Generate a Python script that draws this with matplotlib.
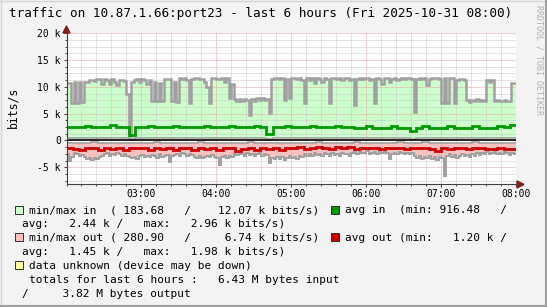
import numpy as np
import matplotlib
matplotlib.use("Agg")
import matplotlib.pyplot as plt
from matplotlib.patches import Rectangle, Polygon
from matplotlib.lines import Line2D
from matplotlib.ticker import MultipleLocator

# ---- data (k bits/s), max series every 2 min, min/avg every 5 min, from 02:00 ----
max_in = [10.7, 10.8, 7.0, 10.9, 7.0, 10.9, 7.1, 10.9,
          11.0, 11.3, 11.3, 11.1, 11.4, 11.4, 10.6, 11.4, 11.2, 10.5, 11.4, 11.0, 10.4, 11.3, 11.3, 11.1,
          8.6, 0.8, 10.9,
          11.3, 11.4, 10.9, 11.4, 11.2, 10.6, 11.3,
          7.3, 11.0, 7.4, 10.8, 7.3,
          11.5, 11.4, 11.5,
          7.3, 11.0, 7.2,
          11.6, 11.5, 11.6, 11.2,
          7.0, 11.5,
          11.6, 11.6, 11.4, 11.5, 11.0, 10.0,
          7.0,
          11.6, 11.7, 11.4, 11.5, 11.6, 11.0, 11.6,
          8.0, 10.5,
          7.8, 7.3, 7.8, 7.4, 7.8, 7.5,
          4.8,
          7.8, 7.4, 7.9, 7.5, 8.0, 7.6, 7.8,
          5.1,
          11.4, 11.6, 11.6, 11.5, 11.6, 7.6, 11.5, 8.0,
          11.6, 11.7, 11.4, 11.6, 11.3,
          7.0,
          11.6, 11.2, 11.7, 10.8, 11.6, 11.5, 11.0, 11.6, 11.4,
          7.0,
          11.6, 11.7, 11.5, 11.6, 11.3, 11.6, 11.6, 11.2, 11.5,
          6.6,
          11.4, 11.6, 11.5, 11.7, 11.6, 11.3, 11.5,
          7.0,
          11.6, 11.4, 10.5, 11.6, 11.7, 11.0, 11.5, 11.6, 11.2, 11.5, 11.6, 11.4, 11.7, 11.6, 11.5,
          5.4,
          11.5, 11.6, 11.4, 11.6, 10.3, 11.5, 11.7, 11.6, 11.6, 11.4,
          7.0, 11.6, 7.0, 11.6,
          11.6, 7.0, 11.3, 11.4, 11.5, 11.3,
          7.6, 7.2, 7.6, 7.3, 7.7, 7.3, 7.5, 7.4,
          11.2, 11.0, 11.3,
          7.3, 7.6, 7.3, 7.4, 7.6, 7.3, 7.4,
          10.8, 10.8]

max_out = [2.6, 3.9, 3.0, 2.4, 2.6, 2.9, 2.7, 3.1,
           3.4, 3.3, 3.6, 3.2, 3.5, 3.0, 2.8,
           2.6, 2.4, 2.8, 2.5, 2.7, 2.3, 2.6, 2.9, 2.5, 2.8,
           3.1, 3.3, 3.0, 3.4, 2.9, 2.7, 3.0,
           2.8, 3.1, 2.7, 2.9, 3.2, 2.6, 3.0, 2.8, 2.7,
           4.0, 2.9, 2.7,
           2.5, 2.8, 2.4, 2.6, 2.9, 2.5, 2.7, 3.0, 3.2,
           2.9, 3.3, 3.0, 2.8, 3.1, 2.7, 3.0, 3.2,
           4.6, 3.1,
           2.9, 3.2, 2.8, 3.1, 2.5, 2.7, 2.3, 2.6, 2.8, 2.4, 2.7, 2.5, 2.9,
           2.6, 2.4, 2.8, 2.5, 2.7, 4.2, 3.2, 3.5,
           3.0, 3.4, 3.1, 3.6, 3.3, 2.9, 3.2,
           3.0, 3.4, 2.8, 3.1, 2.6, 2.9, 2.5, 2.8, 2.4, 2.7,
           2.5, 2.8, 2.3, 2.6, 2.9, 2.4, 2.7, 2.5, 2.8, 2.3, 2.6, 2.5, 2.9, 2.4,
           2.2, 2.5, 2.1, 2.4, 2.3, 2.0, 2.6, 2.3, 2.1, 2.5, 2.2, 2.4, 2.0, 2.3, 3.4, 2.5,
           2.3, 2.5, 2.2, 2.4, 2.6, 2.3, 2.5, 2.4,
           2.8, 3.2, 2.9, 3.5, 3.0, 3.3, 2.8, 3.4, 3.1, 3.6, 3.0, 3.2,
           6.7,
           2.9, 2.6, 3.0, 2.7, 3.2, 2.8, 2.5, 2.9, 2.7, 3.1, 2.6, 2.8, 2.4, 2.7,
           2.3, 2.6, 2.2, 2.5, 2.4, 2.1, 2.6, 2.3, 2.5, 2.2, 2.4, 2.7, 2.3, 2.5]

min_in = [0.45, 0.5, 0.45, 0.4, 0.45, 0.5, 0.45, 0.45, 0.4, 0.45, 0.2, 0.45,
          0.45, 0.5, 0.45, 0.45, 0.4, 0.45, 0.5, 0.45, 0.45, 0.4, 0.45, 0.45,
          0.5, 0.45, 0.45, 0.4, 0.45, 0.45, 0.5, 0.45, 0.3, 0.45, 0.45, 0.5,
          0.45, 0.45, 0.4, 0.45, 0.5, 0.45, 0.45, 0.4, 0.45, 0.45, 0.5, 0.45,
          0.45, 0.4, 0.45, 0.5, 0.45, 0.45, 0.4, 0.35, 0.45, 0.5, 0.45, 0.45,
          0.4, 0.45, 0.5, 0.45, 0.45, 0.4, 0.45, 0.5, 0.45, 0.45, 0.4, 0.45]

avg_in = [2.45, 2.45, 2.45, 2.75, 2.45, 2.5, 2.6, 2.8, 2.55, 2.6,
          1.0,
          2.45, 2.45, 2.75, 2.45, 2.45, 2.45, 2.75, 2.45, 2.45, 2.45,
          2.45, 2.75, 2.45, 2.45, 2.45, 2.75, 2.45, 2.45, 2.45, 2.75, 2.45,
          1.2,
          2.45, 2.45, 2.75, 2.45, 2.45, 2.45, 2.75, 2.45, 2.45, 2.45, 2.75, 2.45, 2.45,
          2.3, 2.35, 2.75, 2.3, 2.3, 2.3, 2.75, 2.35, 2.3,
          1.7,
          2.35, 2.75, 2.4, 2.4, 2.4, 2.75, 2.4, 2.4, 2.4, 2.75, 2.4, 2.4, 2.4, 2.75, 2.45, 2.8]

min_out = [0.45, 0.4, 0.5, 0.45, 0.35, 0.45, 0.5, 0.45, 0.4, 0.45, 0.5, 0.45,
           0.4, 0.45, 0.3, 0.45, 0.5, 0.45, 0.4, 0.45, 0.45, 0.35, 0.45, 0.5,
           0.45, 0.4, 0.45, 0.5, 0.45, 0.3, 0.45, 0.4, 0.45, 0.5, 0.45, 0.45,
           0.4, 0.45, 0.5, 0.45, 0.35, 0.45, 0.45, 0.4, 0.5, 0.45, 0.3, 0.45,
           0.45, 0.4, 0.45, 0.5, 0.45, 0.35, 0.45, 0.4, 0.45, 0.28, 0.45, 0.5,
           0.45, 0.4, 0.45, 0.5, 0.45, 0.35, 0.45, 0.45, 0.4, 0.5, 0.45, 0.45]

avg_out = [1.45, 1.5, 1.7, 1.45, 1.4, 1.75, 1.45, 1.5, 1.45, 1.7, 1.45, 1.4,
           1.45, 1.7, 1.45, 1.5, 1.45, 1.7, 1.45, 1.45, 1.75, 1.45, 1.5, 1.45,
           1.7, 1.45, 1.45, 1.9, 1.5, 1.45, 1.7, 1.45, 1.5, 1.45, 1.7, 1.45,
           1.4, 1.3, 1.6, 1.35, 1.3, 1.35, 1.6, 1.3, 1.35, 1.3, 1.55, 1.35,
           1.4, 1.35, 1.6, 1.4, 1.35, 1.4, 1.6, 1.45, 1.4, 1.45, 1.65, 1.98,
           1.45, 1.6, 1.4, 1.45, 1.65, 1.4, 1.45, 1.5, 1.65, 1.45, 1.5, 1.6]

x_ticks = [60, 120, 180, 240, 300, 360]
x_labels = ["03:00", "04:00", "05:00", "06:00", "07:00", "08:00"]
y_ticks = [-5, 0, 5, 10, 15, 20]
y_labels = ["-5 k", "0", "5 k", "10 k", "15 k", "20 k"]

title = "traffic on 10.87.1.66:port23 - last 6 hours (Fri 2025-10-31 08:00)"
legend_lines = [
    "min/max in  ( 183.68   /    12.07 k bits/s)",
    "avg in  (min: 916.48   /",
    "avg:   2.44 k /   max:   2.96 k bits/s)",
    "min/max out ( 280.90   /     6.74 k bits/s)",
    "avg out (min:   1.20 k /",
    "avg:   1.45 k /   max:   1.98 k bits/s)",
    "data unknown (device may be down)",
    "totals for last 6 hours :   6.43 M bytes input",
    "/     3.82 M bytes output",
]

# ---- style ----
plt.rcParams["font.family"] = "DejaVu Sans Mono"
BG = "#f3f3f3"
GREEN_FILL = "#ccffcc"
PINK_FILL = "#ffc0c0"
GRAY = "#a0a0a0"
AVG_IN = "#009a00"
AVG_OUT = "#cc0000"
UNKNOWN = "#ffffa0"
ARROW = "#8b1a1a"

W, H = 547, 307
fig = plt.figure(figsize=(W / 100, H / 100), dpi=100, facecolor=BG)

def fx(x):
    return x / W

def fy(y):
    return 1 - y / H

ax_l, ax_r, ax_t, ax_b = 66.5, 516, 33.3, 184.45
ax = fig.add_axes([fx(ax_l), fy(ax_b), (ax_r - ax_l) / W, (ax_b - ax_t) / H])
ax.set_facecolor("white")
ax.set_xlim(0, 360)
ax.set_ylim(-8.2, 20)
for s in ax.spines.values():
    s.set_visible(False)

max_in = np.array(max_in)
max_out = np.array(max_out)
e_max = np.arange(len(max_in) + 1) * 2
e_avg = np.arange(len(avg_in) + 1) * 5

# areas
ax.stairs(max_in, e_max, baseline=0, fill=True, color=GREEN_FILL, lw=0, zorder=1)
ax.stairs(min_in, e_avg, baseline=0, fill=True, color="white", lw=0, zorder=1.1)
ax.stairs(-max_out, e_max, baseline=0, fill=True, color=PINK_FILL, lw=0, zorder=1)
ax.stairs(-np.array(min_out), e_avg, baseline=0, fill=True, color="white", lw=0, zorder=1.1)

# grid over the areas
ax.set_axisbelow(False)
ax.set_xticks(x_ticks)
ax.set_xticklabels(x_labels)
ax.set_yticks(y_ticks)
ax.set_yticklabels(y_labels)
ax.xaxis.set_minor_locator(MultipleLocator(12))
ax.yaxis.set_minor_locator(MultipleLocator(1.25))
ax.grid(which="major", color="#e8a0a0", ls=(0, (1, 1)), lw=0.72)
ax.grid(which="minor", color="#c8c8c8", ls=(0, (1, 1)), lw=0.72)
ax.tick_params(which="both", colors="#404040", labelcolor="black", labelsize=7,
               length=2, width=0.7)
ax.tick_params(which="minor", length=1.5)
ax.tick_params(axis="y", pad=2)
ax.tick_params(axis="x", pad=1.5)

# lines
ax.stairs(max_in, e_max, baseline=None, color=GRAY, lw=1.8, zorder=3)
ax.stairs(min_in, e_avg, baseline=None, color=GRAY, lw=1.2, zorder=3)
ax.stairs(-max_out, e_max, baseline=None, color=GRAY, lw=1.4, zorder=3)
ax.stairs(-np.array(min_out), e_avg, baseline=None, color=GRAY, lw=1.2, zorder=3)
ax.stairs(avg_in, e_avg, baseline=None, color=AVG_IN, lw=2.0, zorder=4)
ax.stairs(-np.array(avg_out), e_avg, baseline=None, color=AVG_OUT, lw=2.0, zorder=4)
ax.axhline(0, color="black", lw=1.2, zorder=5)

# axis lines with arrows
fig.add_artist(Line2D([fx(ax_l), fx(ax_l)], [fy(ax_b), fy(29)], color="#404040", lw=0.8))
fig.add_artist(Line2D([fx(ax_l), fx(520)], [fy(ax_b), fy(ax_b)], color="#404040", lw=0.8))
fig.add_artist(Polygon([[fx(ax_l - 3.5), fy(33)], [fx(ax_l + 3.5), fy(33)], [fx(ax_l), fy(26)]],
                       closed=True, color=ARROW, transform=fig.transFigure))
fig.add_artist(Polygon([[fx(517), fy(ax_b - 3.5)], [fx(517), fy(ax_b + 3.5)], [fx(524), fy(ax_b)]],
                       closed=True, color=ARROW, transform=fig.transFigure))

# texts
fig.text(fx(9.3), fy(17.3), title, fontsize=9.1, va="baseline", ha="left")
fig.text(fx(12.5), fy(107.5), "bits/s", fontsize=8.3, rotation=90, ha="center", va="center")
fig.text(fx(539), fy(5), "RRDTOOL / TOBI OETIKER", fontsize=6, rotation=270,
         ha="center", va="top", color="#b0b0b0")

# legend
def box(x, y, color):
    fig.add_artist(Rectangle((fx(x), fy(y + 4)), 8 / W, 8 / H, transform=fig.transFigure,
                             facecolor=color, edgecolor="#303030", lw=0.7))

lfs = 8
box(15, 209.5, GREEN_FILL)
fig.text(fx(29), fy(213.3), legend_lines[0], fontsize=lfs, va="baseline")
box(331, 209.5, AVG_IN)
fig.text(fx(345), fy(213.3), legend_lines[1], fontsize=lfs, va="baseline")
fig.text(fx(21.7), fy(227), legend_lines[2], fontsize=lfs, va="baseline")
box(15, 237.3, PINK_FILL)
fig.text(fx(29), fy(241), legend_lines[3], fontsize=lfs, va="baseline")
box(331, 237.3, AVG_OUT)
fig.text(fx(345), fy(241), legend_lines[4], fontsize=lfs, va="baseline")
fig.text(fx(21.7), fy(255), legend_lines[5], fontsize=lfs, va="baseline")
box(15, 265.3, UNKNOWN)
fig.text(fx(29), fy(269), legend_lines[6], fontsize=lfs, va="baseline")
fig.text(fx(29), fy(283), legend_lines[7], fontsize=lfs, va="baseline")
fig.text(fx(22), fy(297), legend_lines[8], fontsize=lfs, va="baseline")

# outer frame
fig.add_artist(Line2D([0, 1], [fy(0.5), fy(0.5)], color="#d4d4d4", lw=1))
fig.add_artist(Line2D([fx(0.5), fx(0.5)], [0, 1], color="#d4d4d4", lw=1))
fig.add_artist(Line2D([0, 1], [fy(306), fy(306)], color="#a0a0a0", lw=1.5))
fig.add_artist(Line2D([fx(546), fx(546)], [0, 1], color="#a0a0a0", lw=1.5))

plt.savefig("out.png", dpi=100, facecolor=BG)
